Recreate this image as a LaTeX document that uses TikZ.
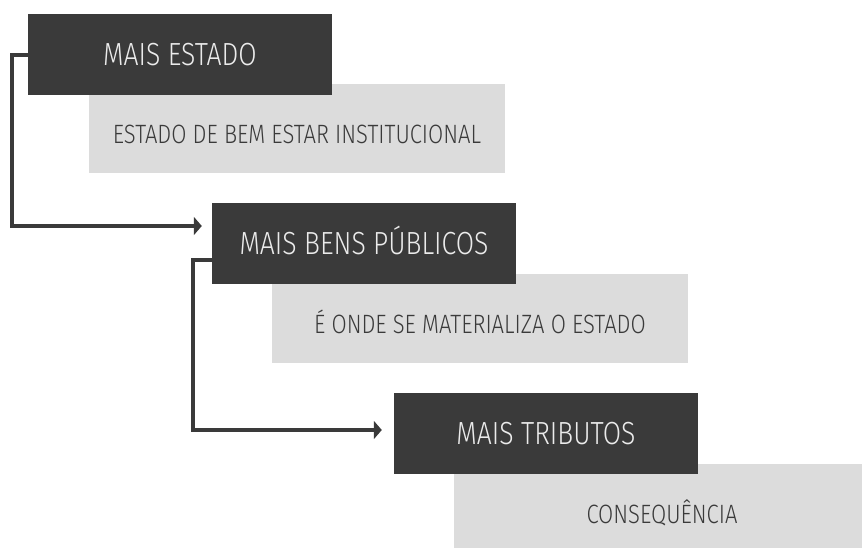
\documentclass[tikz,border=0pt]{standalone}
\usepackage{fontspec}
\setmainfont{Fira Sans}[UprightFont=* Light, FakeStretch=0.83]
\usetikzlibrary{arrows.meta,positioning,backgrounds}
\definecolor{escuro}{HTML}{3A3A3A}
\definecolor{claro}{HTML}{DCDCDC}
\begin{document}
\begin{tikzpicture}[x=1pt,y=1pt,>={Triangle[length=8pt,width=18pt]}]
	  \tikzstyle{mais}=[fill=escuro,text=white!92!black,minimum width=304pt,inner sep=0pt,
	                    text height=51.5pt,text depth=29.5pt,font=\fontsize{32}{32}\selectfont]
	  \tikzstyle{nota}=[fill=claro,text=escuro,minimum width=416pt,inner sep=0pt,anchor=north west,
	                    text height=59.5pt,text depth=29.5pt,font=\fontsize{26.5}{26.5}\selectfont]
	  \tikzstyle{liga}=[->,draw=escuro,line width=4.5pt]

	  \useasboundingbox (0,0) rectangle (862,547);

	  \node[mais] (M0) at (180,492)   {MAIS ESTADO};
	  \node[mais] (M1) at (364,303.5) {MAIS BENS PÚBLICOS};
	  \node[mais] (M2) at (546,113.5) {MAIS TRIBUTOS};

	  \begin{scope}[on background layer]
	  \node[nota,xshift=61pt,yshift=12pt] (E0) at (M0.south west) {ESTADO DE BEM ESTAR INSTITUCIONAL};
	  \node[nota,xshift=60pt,yshift=10pt] (E1) at (M1.south west) {É ONDE SE MATERIALIZA O ESTADO};
	  \node[nota,xshift=60pt,yshift=10pt] (E2) at (M2.south west) {CONSEQUÊNCIA};
	  \end{scope}

	  \draw[liga,shorten >=10pt] (M0.west) -- ++(-16,0) |- ([yshift=17.5pt]M1.west);
	  \draw[liga,shorten >=12pt] ([yshift=-16.5pt]M1.west) -- ++(-19,0) |- ([yshift=3.5pt]M2.west);
	\end{tikzpicture}
\end{document}
